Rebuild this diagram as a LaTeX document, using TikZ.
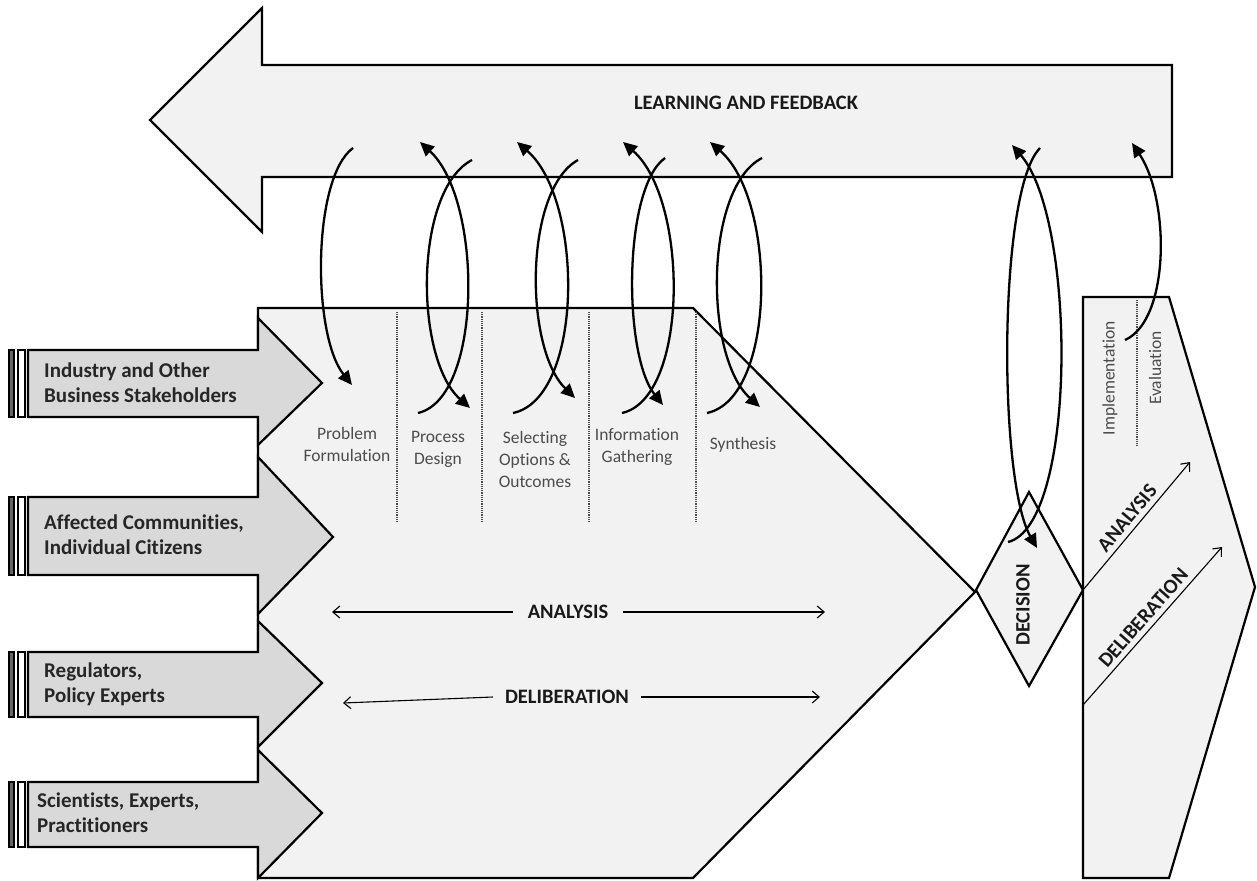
\documentclass[tikz,border=0pt]{standalone}
\usepackage{fontspec}
\setmainfont{Carlito}[Ligatures=NoCommon]
\usetikzlibrary{arrows.meta}

\definecolor{panelgray}{HTML}{F2F2F2}
\definecolor{armgray}{HTML}{D9D9D9}

\tikzset{
    panel/.style={draw=black, line width=2.2pt, fill=panelgray},
    arm/.style={draw=black, line width=2.2pt, fill=armgray},
    loopline/.style={line width=2.3pt, -{Triangle[length=14pt,width=13pt]}},
    thinarr/.style={line width=1.1pt, -{Straight Barb[length=7pt,width=12pt]}},
    phase/.style={font=\fontsize{17.5}{22}\selectfont, text=black!70, align=center, inner sep=0pt},
    who/.style={font=\bfseries\fontsize{21}{25}\selectfont, align=left, anchor=west, text=black!85, inner sep=0pt},
    caps/.style={font=\bfseries\fontsize{20.5}{24}\selectfont, text=black!90},
}

\begin{document}
\begin{tikzpicture}[x=1pt, y=-1pt]

    \useasboundingbox (0,0) rectangle (1257,880);

    % Learning and feedback arrow
    \draw[panel] (150,120) -- (262,8) -- (262,65) -- (1172,65) -- (1172,177)
        -- (262,177) -- (262,232) -- cycle;
    \node[caps] (feedback) at (746,103) {LEARNING AND FEEDBACK};

    % Main analysis / deliberation block
    \draw[panel] (258,308) -- (693,308) -- (975,592) -- (693,878) -- (258,878) -- cycle;

    % Stakeholder arrows
    \foreach \st/\sb/\ht/\hb/\tx/\ty in {350/417/318/445/322/383,
                                         497/575/457/614/333/537,
                                         652/717/621/747/322/683,
                                         782/847/750/878/322/813}
    {
        \draw[arm] (28,\st) -- (258,\st) -- (258,\ht) -- (\tx,\ty)
            -- (258,\hb) -- (258,\sb) -- (28,\sb) -- cycle;
        \draw[line width=1.5pt, fill=black!60] (9,\st) rectangle (14,\sb);
        \draw[line width=1.5pt, fill=white] (18,\st) rectangle (25,\sb);
    }

    \node[who] (industry) at (44,383) {Industry and Other\\Business Stakeholders};
    \node[who] (affected) at (44,535) {Affected Communities,\\Individual Citizens};
    \node[who] (regulators) at (44,684) {Regulators,\\Policy Experts};
    \node[who] (scientists) at (37,813) {Scientists, Experts,\\Practitioners};

    % Decision diamond
    \draw[panel] (1029,492) -- (1083,590) -- (1029,686) -- (976,590) -- cycle;
    \node[caps, rotate=90] (decision) at (1023,605) {DECISION};

    % Implementation block
    \draw[panel] (1083,297) -- (1169,297) -- (1255,587) -- (1169,878) -- (1083,878) -- cycle;

    % Phase separators
    \foreach \x in {397,482,589,696}
        \draw[densely dotted, line width=1.2pt, black!70] (\x,312) -- (\x,522);
    \draw[densely dotted, line width=1.2pt, black!70] (1137,300) -- (1137,447);

    % Phase labels
    \node[phase] (problem) at (347,444) {Problem\\Formulation};
    \node[phase] (process) at (438,449) {Process\\Design};
    \node[phase] (selecting) at (535,459) {Selecting\\Options \&\\Outcomes};
    \node[phase] (information) at (637,447) {Information\\Gathering};
    \node[phase] (synthesis) at (743,445) {Synthesis};
    \node[phase, rotate=90] (implementation) at (1110,378) {Implementation};
    \node[phase, rotate=90] (evaluation) at (1155,368) {Evaluation};

    % Analysis and deliberation across the block
    \node[caps, inner xsep=15pt] (analysis) at (568,612) {ANALYSIS};
    \coordinate (analysisL) at (332,612);
    \coordinate (analysisR) at (825,612);
    \draw[thinarr] (analysis.west) -- (analysisL);
    \draw[thinarr] (analysis.east) -- (analysisR);

    \node[caps, inner xsep=12pt] (deliberation) at (567,697) {DELIBERATION};
    \coordinate (deliberationL) at (343,703);
    \coordinate (deliberationR) at (820,697);
    \draw[thinarr] (deliberation.west) -- (deliberationL);
    \draw[thinarr] (deliberation.east) -- (deliberationR);

    % After the decision
    \coordinate (postA0) at (1083,590);
    \coordinate (postA1) at (1190,462);
    \coordinate (postD0) at (1083,705);
    \coordinate (postD1) at (1222,547);
    \draw[thinarr] (postA0) -- node[caps, sloped, above=2pt, inner sep=3pt] (postanalysis) {ANALYSIS} (postA1);
    \draw[thinarr] (postD0) -- node[caps, sloped, above=2pt, inner sep=3pt] (postdeliberation) {DELIBERATION} (postD1);

    % Feedback loops: up to the feedback arrow
    \foreach \ua/\ub/\uc in {418/420/483, 513/517/584, 622/623/689, 707/710/777}
        \draw[loopline] (\ua,413) .. controls (\uc,398) and (\uc,200) .. (\ub,142);

    % Feedback loops: down into each phase
    \foreach \da/\dy/\db/\by/\dc in {353/148/352/385/312, 472/160/470/408/414,
                                     578/160/575/398/524, 665/158/663/405/623,
                                     762/158/760/407/704}
        \draw[loopline] (\da,\dy) .. controls (\dc,\dy+30) and (\dc,\by-50) .. (\db,\by);

    % Decision loop
    \draw[loopline] (1008,542) .. controls (1077,525) and (1077,220) .. (1012,145);
    \draw[loopline] (1040,148) .. controls (998,190) and (998,480) .. (1037,548);

    % Evaluation loop
    \draw[loopline] (1125,340) .. controls (1170,320) and (1170,200) .. (1132,143);

\end{tikzpicture}
\end{document}
